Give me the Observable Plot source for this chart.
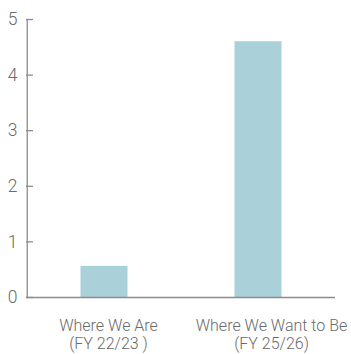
<!DOCTYPE html>
<html>
<head>
<meta charset="utf-8">
<script src="https://cdn.jsdelivr.net/npm/d3@7"></script>
<script src="https://cdn.jsdelivr.net/npm/@observablehq/plot@0.6"></script>
<style>
  html, body { margin: 0; padding: 0; background: #fff; }
</style>
</head>
<body>
<div id="chart"></div>
<script>
// Categories and values
const categories = ["Where We Are\n(FY 22/23 )", "Where We Want to Be\n(FY 25/26)"];
const values = [0.56, 4.6];
const yTicks = [0, 1, 2, 3, 4, 5];

const data = categories.map((c, i) => ({category: c, value: values[i]}));

const W = 351, H = 354;
const mL = 26, mR = 16;
const frameW = W - mL - mR;
const halfBand = frameW / categories.length / 2;
// horizontal nudge of each category label, in pixels
const labelShift = [4, 13];

const axisColor = "#8c8c8c";
const textColor = "#6a6a6a";

const chart = Plot.plot({
  width: W,
  height: H,
  marginLeft: mL,
  marginRight: mR,
  marginTop: 19,
  marginBottom: 57,
  style: {fontFamily: "Roboto, 'Liberation Sans', sans-serif", background: "#fff", overflow: "visible"},
  x: {domain: categories, padding: 0, axis: null},
  y: {domain: [0, 5]},
  marks: [
    Plot.barY(data, {x: "category", y: "value", fill: "#aad0da", insetLeft: 53.5, insetRight: 53.5}),
    // inward tick marks on the value axis
    Plot.ruleY(yTicks, {y: d => d, stroke: axisColor, strokeWidth: 1.3, insetRight: frameW - 7}),
    Plot.axisY({
      ticks: yTicks,
      tickSize: 0,
      tickPadding: 9,
      tickFormat: d => String(d),
      color: textColor,
      fontSize: 17.5,
      fontWeight: 300,
      label: null
    }),
    // vertical axis line at the left edge of the frame
    Plot.ruleX([categories[0]], {y1: 0, y2: 5, dx: -halfBand, stroke: axisColor, strokeWidth: 1.3}),
    // category labels under the bars
    ...data.map((d, i) => Plot.text([d], {
      x: "category",
      text: "category",
      frameAnchor: "bottom",
      lineAnchor: "top",
      dy: 21,
      dx: labelShift[i],
      fill: textColor,
      fontSize: 16,
      fontWeight: 300,
      lineHeight: 1.1
    })),
    Plot.ruleY([0], {stroke: axisColor, strokeWidth: 1.3})
  ]
});

document.getElementById("chart").appendChild(chart);
</script>
</body>
</html>
